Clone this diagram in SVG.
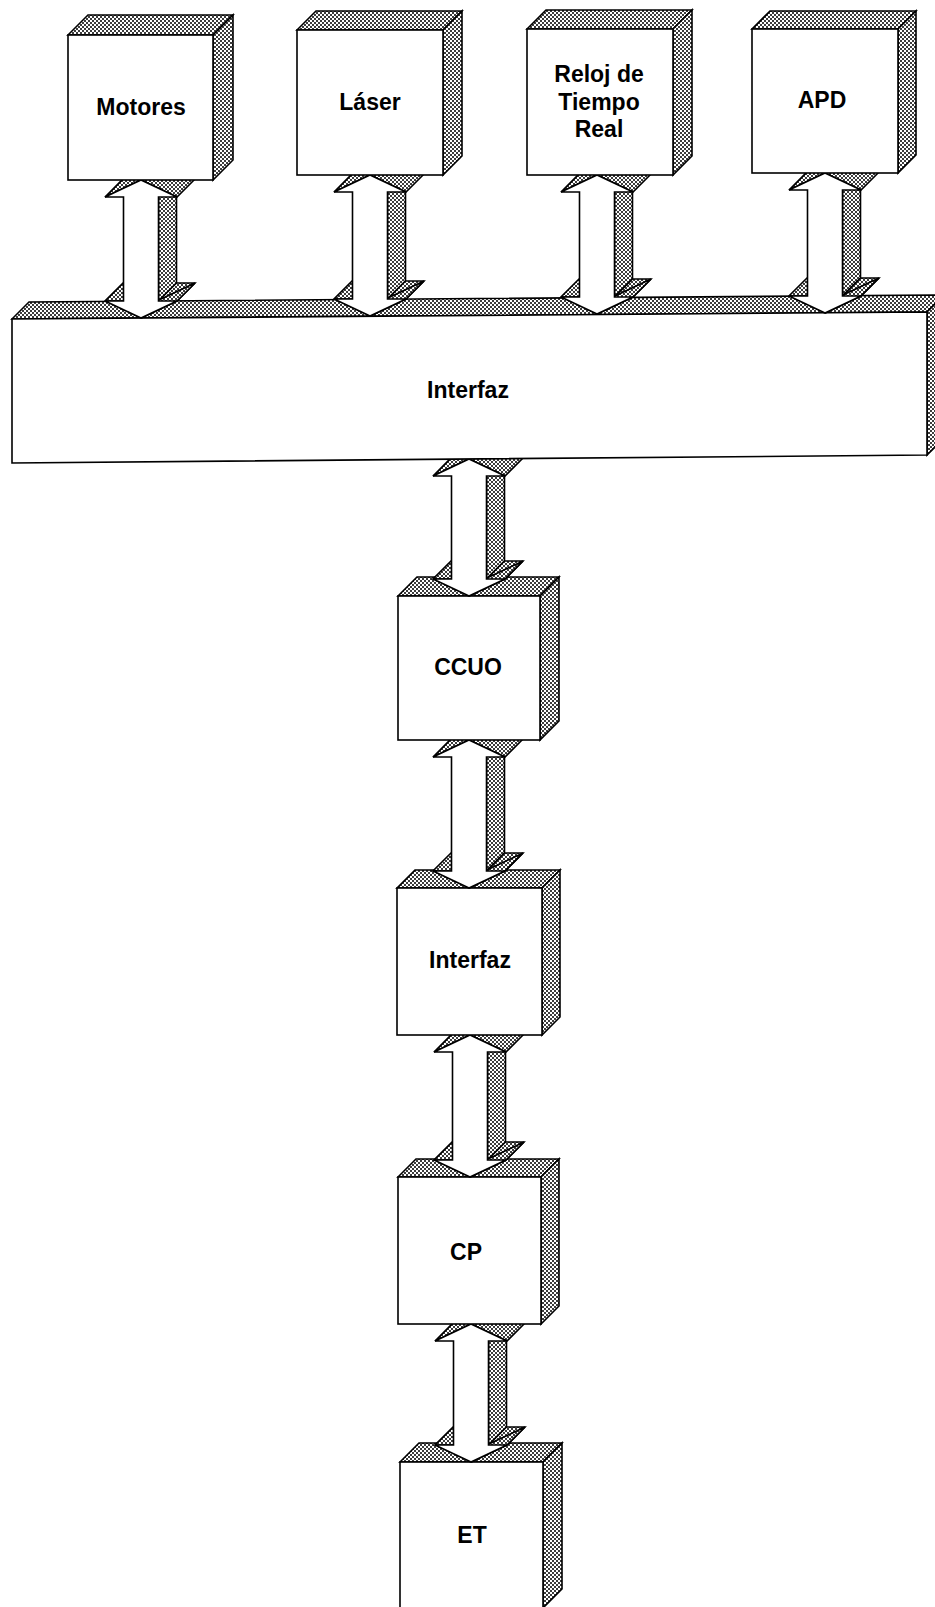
<svg xmlns="http://www.w3.org/2000/svg" width="935" height="1607" viewBox="0 0 935 1607">
<defs>
<pattern id="dots" width="4" height="4" patternUnits="userSpaceOnUse">
<rect width="4" height="4" fill="#fff"/>
<rect width="2" height="2" fill="#3c3c3c"/>
<rect x="2" y="2" width="2" height="2" fill="#3c3c3c"/>
</pattern>
</defs>
<style>
.f{fill:#fff;stroke:#000;stroke-width:1.6;stroke-linejoin:miter}
.s{fill:url(#dots);stroke:#000;stroke-width:1.6;stroke-linejoin:miter}
text{font-family:"Liberation Sans",Arial,sans-serif;font-weight:bold;font-size:23px;text-anchor:middle;fill:#000}
</style>
<rect width="935" height="1607" fill="#fff"/>

<g id="ET">
<polygon class="s" points="400,1462 419,1443 562,1443 543,1462"/>
<polygon class="s" points="543,1462 562,1443 562,1589 543,1608"/>
<rect class="f" x="400" y="1462" width="143" height="146"/>
<text x="472" y="1543">ET</text>
</g>

<g id="connectors-lower">
<g transform="translate(471,1324)">
<polygon class="s" points="17.5,17 17.5,121 35.5,103 35.5,-1"/>
<polygon class="s" points="-36,121 -17.5,121 0.5,103 -18,103"/>
<polygon class="s" points="17.5,121 36,121 54,103 35.5,103"/>
<polygon class="s" points="36,121 0,138 18,120 54,103"/>
<polygon class="s" points="-36,17 0,0 18,-18 -18,-1"/>
<polygon class="s" points="0,0 36,17 54,-1 18,-18"/>
<polygon class="f" points="0,0 36,17 17.5,17 17.5,121 36,121 0,138 -36,121 -17.5,121 -17.5,17 -36,17"/>
</g>
</g>

<g id="CP">
<polygon class="s" points="398,1177 416,1159 559,1159 541,1177"/>
<polygon class="s" points="541,1177 559,1159 559,1306 541,1324"/>
<rect class="f" x="398" y="1177" width="143" height="147"/>
<text x="466" y="1260">CP</text>
</g>

<g id="connectors-cp">
<g transform="translate(470,1035)">
<polygon class="s" points="17.5,17 17.5,125 35.5,107 35.5,-1"/>
<polygon class="s" points="-36,125 -17.5,125 0.5,107 -18,107"/>
<polygon class="s" points="17.5,125 36,125 54,107 35.5,107"/>
<polygon class="s" points="36,125 0,142 18,124 54,107"/>
<polygon class="s" points="-36,17 0,0 18,-18 -18,-1"/>
<polygon class="s" points="0,0 36,17 54,-1 18,-18"/>
<polygon class="f" points="0,0 36,17 17.5,17 17.5,125 36,125 0,142 -36,125 -17.5,125 -17.5,17 -36,17"/>
</g>
</g>

<g id="Interfaz2">
<polygon class="s" points="397,888 415,870 560,870 542,888"/>
<polygon class="s" points="542,888 560,870 560,1017 542,1035"/>
<rect class="f" x="397" y="888" width="145" height="147"/>
<text x="470" y="968">Interfaz</text>
</g>

<g id="connectors-int2">
<g transform="translate(469,740)">
<polygon class="s" points="17.5,17 17.5,131 35.5,113 35.5,-1"/>
<polygon class="s" points="-36,131 -17.5,131 0.5,113 -18,113"/>
<polygon class="s" points="17.5,131 36,131 54,113 35.5,113"/>
<polygon class="s" points="36,131 0,148 18,130 54,113"/>
<polygon class="s" points="-36,17 0,0 18,-18 -18,-1"/>
<polygon class="s" points="0,0 36,17 54,-1 18,-18"/>
<polygon class="f" points="0,0 36,17 17.5,17 17.5,131 36,131 0,148 -36,131 -17.5,131 -17.5,17 -36,17"/>
</g>
</g>

<g id="CCUO">
<polygon class="s" points="398,596 417,577 559,577 540,596"/>
<polygon class="s" points="540,596 559,577 559,721 540,740"/>
<rect class="f" x="398" y="596" width="142" height="144"/>
<text x="468" y="675">CCUO</text>
</g>

<g id="connectors-ccuo">
<g transform="translate(469,459)">
<polygon class="s" points="17.5,17 17.5,120 35.5,102 35.5,-1"/>
<polygon class="s" points="-36,120 -17.5,120 0.5,102 -18,102"/>
<polygon class="s" points="17.5,120 36,120 54,102 35.5,102"/>
<polygon class="s" points="36,120 0,137 18,119 54,102"/>
<polygon class="s" points="-36,17 0,0 18,-18 -18,-1"/>
<polygon class="s" points="0,0 36,17 54,-1 18,-18"/>
<polygon class="f" points="0,0 36,17 17.5,17 17.5,120 36,120 0,137 -36,120 -17.5,120 -17.5,17 -36,17"/>
</g>
</g>

<g id="InterfazBar">
<polygon class="s" points="12,319 29,302 944,295 927,312"/>
<polygon class="s" points="927,312 944,295 944,438 927,455"/>
<polygon class="f" points="12,319 927,312 927,455 12,463"/>
<text x="468" y="398">Interfaz</text>
</g>

<g id="connectors-top">
<g transform="translate(141,180)">
<polygon class="s" points="17.5,17 17.5,121 35.5,103 35.5,-1"/>
<polygon class="s" points="-36,121 -17.5,121 0.5,103 -18,103"/>
<polygon class="s" points="17.5,121 36,121 54,103 35.5,103"/>
<polygon class="s" points="36,121 0,138 18,120 54,103"/>
<polygon class="s" points="-36,17 0,0 18,-18 -18,-1"/>
<polygon class="s" points="0,0 36,17 54,-1 18,-18"/>
<polygon class="f" points="0,0 36,17 17.5,17 17.5,121 36,121 0,138 -36,121 -17.5,121 -17.5,17 -36,17"/>
</g>
<g transform="translate(370,175)">
<polygon class="s" points="17.5,17 17.5,124 35.5,106 35.5,-1"/>
<polygon class="s" points="-36,124 -17.5,124 0.5,106 -18,106"/>
<polygon class="s" points="17.5,124 36,124 54,106 35.5,106"/>
<polygon class="s" points="36,124 0,141 18,123 54,106"/>
<polygon class="s" points="-36,17 0,0 18,-18 -18,-1"/>
<polygon class="s" points="0,0 36,17 54,-1 18,-18"/>
<polygon class="f" points="0,0 36,17 17.5,17 17.5,124 36,124 0,141 -36,124 -17.5,124 -17.5,17 -36,17"/>
</g>
<g transform="translate(597,175)">
<polygon class="s" points="17.5,17 17.5,122 35.5,104 35.5,-1"/>
<polygon class="s" points="-36,122 -17.5,122 0.5,104 -18,104"/>
<polygon class="s" points="17.5,122 36,122 54,104 35.5,104"/>
<polygon class="s" points="36,122 0,139 18,121 54,104"/>
<polygon class="s" points="-36,17 0,0 18,-18 -18,-1"/>
<polygon class="s" points="0,0 36,17 54,-1 18,-18"/>
<polygon class="f" points="0,0 36,17 17.5,17 17.5,122 36,122 0,139 -36,122 -17.5,122 -17.5,17 -36,17"/>
</g>
<g transform="translate(825,173)">
<polygon class="s" points="17.5,17 17.5,123 35.5,105 35.5,-1"/>
<polygon class="s" points="-36,123 -17.5,123 0.5,105 -18,105"/>
<polygon class="s" points="17.5,123 36,123 54,105 35.5,105"/>
<polygon class="s" points="36,123 0,140 18,122 54,105"/>
<polygon class="s" points="-36,17 0,0 18,-18 -18,-1"/>
<polygon class="s" points="0,0 36,17 54,-1 18,-18"/>
<polygon class="f" points="0,0 36,17 17.5,17 17.5,123 36,123 0,140 -36,123 -17.5,123 -17.5,17 -36,17"/>
</g>
</g>

<g id="Motores">
<polygon class="s" points="68,35 88,15 233,15 213,35"/>
<polygon class="s" points="213,35 233,15 233,160 213,180"/>
<rect class="f" x="68" y="35" width="145" height="145"/>
<text x="141" y="115">Motores</text>
</g>

<g id="Laser">
<polygon class="s" points="297,30 316,11 462,11 443,30"/>
<polygon class="s" points="443,30 462,11 462,156 443,175"/>
<rect class="f" x="297" y="30" width="146" height="145"/>
<text x="370" y="110">Láser</text>
</g>

<g id="Reloj">
<polygon class="s" points="527,29 546,10 692,10 673,29"/>
<polygon class="s" points="673,29 692,10 692,156 673,175"/>
<rect class="f" x="527" y="29" width="146" height="146"/>
<text x="599" y="82">Reloj de</text>
<text x="599" y="110">Tiempo</text>
<text x="599" y="137">Real</text>
</g>

<g id="APD">
<polygon class="s" points="752,29 770,11 916,11 898,29"/>
<polygon class="s" points="898,29 916,11 916,155 898,173"/>
<rect class="f" x="752" y="29" width="146" height="144"/>
<text x="822" y="108">APD</text>
</g>
</svg>
